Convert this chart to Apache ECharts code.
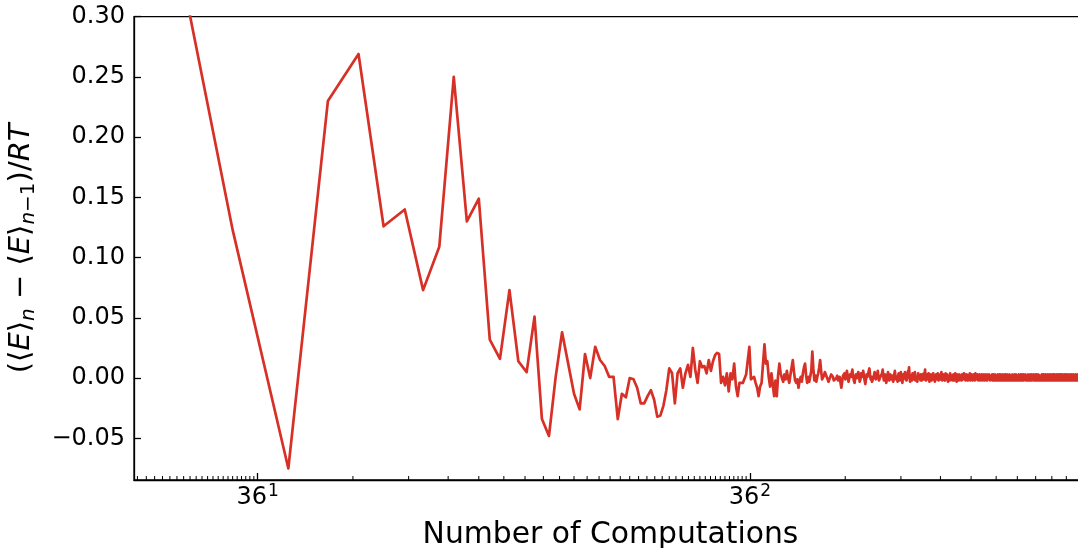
<!DOCTYPE html>
<html>
<head>
<meta charset="utf-8">
<script src="https://cdn.jsdelivr.net/npm/echarts@6/dist/echarts.min.js"></script>
<style>
  html, body { margin: 0; padding: 0; background: #ffffff; }
  #chart { width: 1078px; height: 548px; }
</style>
</head>
<body>
<div id="chart"></div>
<script>
// One energy estimate is recorded every STEP computations.
const STEP = 15;

// Successive change of the running mean energy, (<E>_n - <E>_{n-1})/RT,
// stored in units of 0.001 for compactness (one entry per recorded step).
const deltaEarly = [
  520, 123, -75, 230, 269, 126, 140, 73, 109, 250,
  130, 149, 32, 16, 73, 14, 5, 51, -34, -48,
  1, 38, 12, -13, -26, 20, 0, 26, 15, 10,
  1, 1, -34, -13, -16, 0, -1, -8, -21, -21,
  -15, -10, -18, -32, -31, -23, -10, 8, 4, -21,
  4, 8, -8, 4, 11, 1, 25, 7, -4, 14,
  9, 10, 4, 15, 6, 14, 19, 21, 20, -4,
  1, -6, 4, -11, 4, -1, 12, -7, -15, -4,
  -3, -4, -3, 3, 3, 26, -1, -1, 1, -4,
  -8, -15, -7, -4, -4, 28, 12, 14, 1, -7,
  4, 3, -15, -2
];

const deltaMid = [
  -15, 2, 12, 4, 0, -3, 3, -1, 6, 0,
  -4, 3, 9, 15, 5, -2, -4, -1, -8, -2,
  1, -3, 4, 9, 12, 2, -4, 1, -3, -2,
  6, 22, 8, -2, 2, -3, 1, 4, 9, 15,
  6, -1, -2, 2, 5, 4, 5, -1, -3, -3,
  1, 3, 4, 1, -2, -3, -3, 0, 2, -2,
  -2, 1, -4, -8, -3, 2
];

const deltaTail1 = [
  2, 4, -1, 0, 6, 1, -3, -2, 3, 1,
  0, 7, 2, -2, -4, 1, 3, 0, -1, 5,
  2, -3, -1, 4, 1, 0, 6, 2, -2, -5,
  -1, 3, 1, 0, 2, 8, 3, -1, 1, -3,
  -4, 0, 2, 5, 1, -1, 0, 3, 6, 1,
  -2, -3, 1, 2, 0, 4, 7, 1, -2, 0,
  3, 1, -4, -1, 2, 5, 0, -2, 1, 3,
  4, -1, 0, 2, -3, -1, 3, 6, 2, -1,
  1, 0, -3, 2, 4, 1, -2, 0, 5, 2,
  -1, -4, 1, 3, 0, 2, 5, -1, 1, -2,
  0, 3, 6, 2, 9, 1, -3, 0, 2, 1,
  -2, 4, 1, -1, 0, 3, 5, -2, 1, 0,
  2, -3, 1, 4, 0, -1, 2, 1, -2, 3
];

const deltaTail2 = [
  1, -2, 3, 0, 1, 4, -1, 2, 7, 0,
  -2, 1, 3, 2, -1, 0, 4, 1, -3, 2,
  0, 1, 3, -2, 1, 2, 0, 4, -1, 1,
  2, -3, 0, 1, 3, 1, -1, 2, 4, 0,
  -2, 1, 2, 0, 3, -1, 1, 5, 0, -2,
  1, 2, -1, 3, 0, 1, -2, 2, 4, 1,
  -1, 0, 3, 1, -3, 2, 1, 0, 2, -2,
  4, 1, 0, -1, 2, 3, -2, 1, 0, 3,
  1, -2, 2, 0, 4, -1, 1, 2, -3, 1,
  3, 0, -1, 2, 1, -2, 3, 4, 0, -1,
  2, 1, -2, 0, 3, 1, -1, 2, 0, 4,
  -1, 1, 0, 3, -2, 2, 1, -1, 3, 0,
  1, -2, 2, 3, 0, -1, 1, 4, -2, 1,
  0, 2, -1, 1, 3, 0, -2, 2, 1, -1,
  3, 0, 1, -2, 2, 4, -1, 0, 1, 2,
  -1, 2, 0, 3, -2, 1, 1, 0, 3, -1,
  2, -2, 1, 0, 2, 3, -1, 1, -2, 2,
  0, 3, 1, -1, 2, 0, -2, 1, 3, 0,
  -1, 2, 1, 0, -2, 3, 1, 2, -1, 0,
  2, -1, 3, 0, 1, -2, 2, 1, 0, -1
];

const deltaTail3 = [
  -1, 2, 0, 3, -2, 1, 2, -1, 3, 0,
  -2, 2, 1, -1, 3, 0, -2, 2, 1, 3,
  -1, 0, 2, -2, 3, 1, -1, 2, 0, -2,
  3, 1, -1, 2, 0, 3, -2, 1, 2, -1,
  0, 2, -2, 3, 1, 0, -1, 2, 1, -2,
  3, 0, 1, -1, 2, -2, 3, 1, 0, 2,
  -1, 1, 3, -2, 0, 2, 1, -1, 2, 0,
  -2, 3, 1, 0, -1, 2, 3, -2, 1, 0,
  2, -1, 1, 3, -2, 0, 2, 1, -1, 2,
  0, -2, 3, 1, -1, 2, 0, 1, -2, 3,
  1, 0, -1, 2, 3, -2, 1, 0, 2, -1,
  1, 3, -2, 0, 2, 1, -1, 2, 0, -2,
  3, 1, 0, -1, 2, -2, 3, 1, -1, 0,
  2, 1, -2, 3, 0, -1, 2, 1, 0, 2,
  -1, 3, 0, -2, 2, 1, -1, 2, 3, -2,
  0, 1, 2, -1, 3, 0, -2, 1, 2, 0,
  -1, 2, 1, -2, 3, 0, 1, -1, 2, 1,
  0, -2, 3, 1, -1, 2, 0, 2, -1, 1,
  3, -2, 0, 2, 1, -1, 2, 0, -2, 3,
  1, 0, -1, 2, 1, -2, 3, 0, 1, -1,
  2, 1, 0, -2, 3, 1, -1, 2, 0, 1,
  -1, 2, 3, -2, 0, 1, 2, -1, 1, 0,
  2, -2, 3, 1, 0, -1, 2, 1, -1, 3,
  0, -2, 2, 1, 0, 3, -1, 1, 2, -2,
  1, 0, 2, -1, 3, 1, -2, 2, 0, 1,
  -1, 2, 1, 0, 3, -2, 1, 2, -1, 0,
  2, 1, -2, 3, 0, 1, -1, 2, 1, -1,
  0, 3, -2, 1, 2, 0, -1, 2, 1, -2,
  3, 0, 1, -1, 2, 1, -2, 3, 0, 1,
  -1, 2, 0, 1, 3, -2, 1, 0, 2, -1,
  1, 2, -1, 0, 3, -2, 2, 1, 0, -1,
  2, 1, -2, 3, 0, 1, -1, 2, 0, 1,
  -2, 3, 1, 0, -1, 2, 1, -1, 3, 0,
  1, -2, 2, 0, 1, 3, -1, 0, 2, -2,
  1, 2, 0, -1, 3, 1, -2, 2, 0, 1,
  -1, 2, 1, -2, 3, 0, 1, -1, 2, 1,
  0, -2, 3, 1, 0, 2, -1, 1, 2, -1,
  0, 3, -2, 1, 2, 0, -1, 2, 1, 0,
  -2, 3, 1, -1, 2, 0, 1, 2, -1, 0,
  2, -2, 1, 3, 0, -1, 2, 1, 0, -2,
  3, 1, -1, 2, 0, 1, -2, 2, 1, 0,
  -1, 3, 0, 1, 2, -2, 1, 0, 2, -1,
  1, 2, -1, 0, 3, -2, 1, 2, 0, 1,
  -1, 2, 0, 1, -2, 2, 0, 3, -1, 1,
  2, -2, 0, 1, 2
];

// Axis settings
const X_BASE = 36;
const X_MIN = 14.63;
const X_MAX = 15065;
const Y_MIN = -0.0846;
const Y_MAX = 0.30;
const yTickValues = [-0.05, 0.00, 0.05, 0.10, 0.15, 0.20, 0.25, 0.30];
const xMinorMultiples = [2, 3, 4, 5, 6, 7, 8, 9, 10, 11, 12, 13, 14, 15, 16, 17, 18,
  19, 20, 21, 22, 23, 24, 25, 26, 27, 28, 29, 30, 31, 32, 33, 34, 35];
const xDecades = [0, 1, 2];

const FONT = 'DejaVu Sans';
const LINE_RED = '#d73027';

const deltas = [].concat(deltaEarly, deltaMid, deltaTail1, deltaTail2, deltaTail3);
const seriesData = deltas.map((d, i) => [STEP * (i + 1), d / 1000]);

// Minor ticks of the base-36 log axis sit at k * 36^n.
const minorTickData = [];
xDecades.forEach(n => {
  xMinorMultiples.forEach(k => {
    const v = k * Math.pow(X_BASE, n);
    if (v > X_MIN && v < X_MAX) minorTickData.push([v, Y_MIN]);
  });
});

const chart = echarts.init(document.getElementById('chart'), null, { renderer: 'canvas' });

chart.setOption({
  animation: false,
  backgroundColor: '#ffffff',
  textStyle: { fontFamily: FONT },
  grid: {
    left: 134, right: -9, top: 16.7, bottom: 68,
    containLabel: false,
    outerBoundsMode: 'none',
    show: true, borderColor: '#000000', borderWidth: 1.3,
    backgroundColor: 'transparent'
  },
  xAxis: {
    type: 'log',
    logBase: X_BASE,
    min: X_MIN,
    max: X_MAX,
    name: 'Number of Computations',
    nameLocation: 'middle',
    nameGap: 40,
    nameTextStyle: { fontSize: 29.8, color: '#000000', fontFamily: FONT },
    axisLine: { show: true, onZero: false, lineStyle: { color: '#000000', width: 1.3 } },
    axisTick: { show: true, inside: true, length: 7, lineStyle: { color: '#000000', width: 1.3 } },
    minorTick: { show: false },
    splitLine: { show: false },
    axisLabel: {
      show: true,
      margin: 3,
      color: '#000000',
      fontFamily: FONT,
      fontSize: 24,
      lineHeight: 30,
      showMinLabel: false,
      showMaxLabel: false,
      formatter: function (v) {
        const e = Math.log(v) / Math.log(X_BASE);
        const r = Math.round(e);
        if (Math.abs(e - r) > 1e-6) return '';
        return X_BASE + '{sup|' + r + '}';
      },
      rich: {
        sup: { fontSize: 17, lineHeight: 17, verticalAlign: 'top', fontFamily: FONT, color: '#000000', padding: [0, 0, 0, 1] }
      }
    }
  },
  yAxis: {
    type: 'value',
    min: Y_MIN,
    max: Y_MAX,
    name: '(\u27E8{i|E}\u27E9{si|n} \u2212 \u27E8{i|E}\u27E9{si|n}{s|\u22121})/{i|RT}',
    nameLocation: 'middle',
    nameGap: 95,
    nameRotate: 90,
    nameTextStyle: {
      fontSize: 29, color: '#000000', fontFamily: FONT, lineHeight: 36,
      rich: {
        i: { fontSize: 29, fontStyle: 'italic', fontFamily: FONT, color: '#000000', lineHeight: 36 },
        si: { fontSize: 20, fontStyle: 'italic', fontFamily: FONT, color: '#000000', verticalAlign: 'bottom', lineHeight: 22 },
        s: { fontSize: 20, fontFamily: FONT, color: '#000000', verticalAlign: 'bottom', lineHeight: 22 }
      }
    },
    axisLine: { show: true, onZero: false, lineStyle: { color: '#000000', width: 1.3 } },
    axisTick: { show: true, inside: true, length: 7, customValues: yTickValues, lineStyle: { color: '#000000', width: 1.3 } },
    splitLine: { show: false },
    axisLabel: {
      show: true,
      customValues: yTickValues,
      margin: 9,
      color: '#000000',
      fontFamily: FONT,
      fontSize: 24,
      formatter: function (v) {
        return (v < -1e-9 ? '\u2212' : '') + Math.abs(v).toFixed(2);
      }
    }
  },
  series: [
    {
      type: 'line',
      data: seriesData,
      showSymbol: false,
      symbol: 'none',
      clip: true,
      silent: true,
      lineStyle: { color: LINE_RED, width: 2.7, join: 'round', cap: 'round' },
      z: 3
    },
    {
      // minor ticks along the bottom axis
      type: 'custom',
      data: minorTickData,
      silent: true,
      z: 5,
      renderItem: function (params, api) {
        const p = api.coord([api.value(0), Y_MIN]);
        return {
          type: 'line',
          shape: { x1: p[0], y1: p[1], x2: p[0], y2: p[1] - 4 },
          style: { stroke: '#000000', lineWidth: 1 }
        };
      }
    }
  ]
});
</script>
</body>
</html>
